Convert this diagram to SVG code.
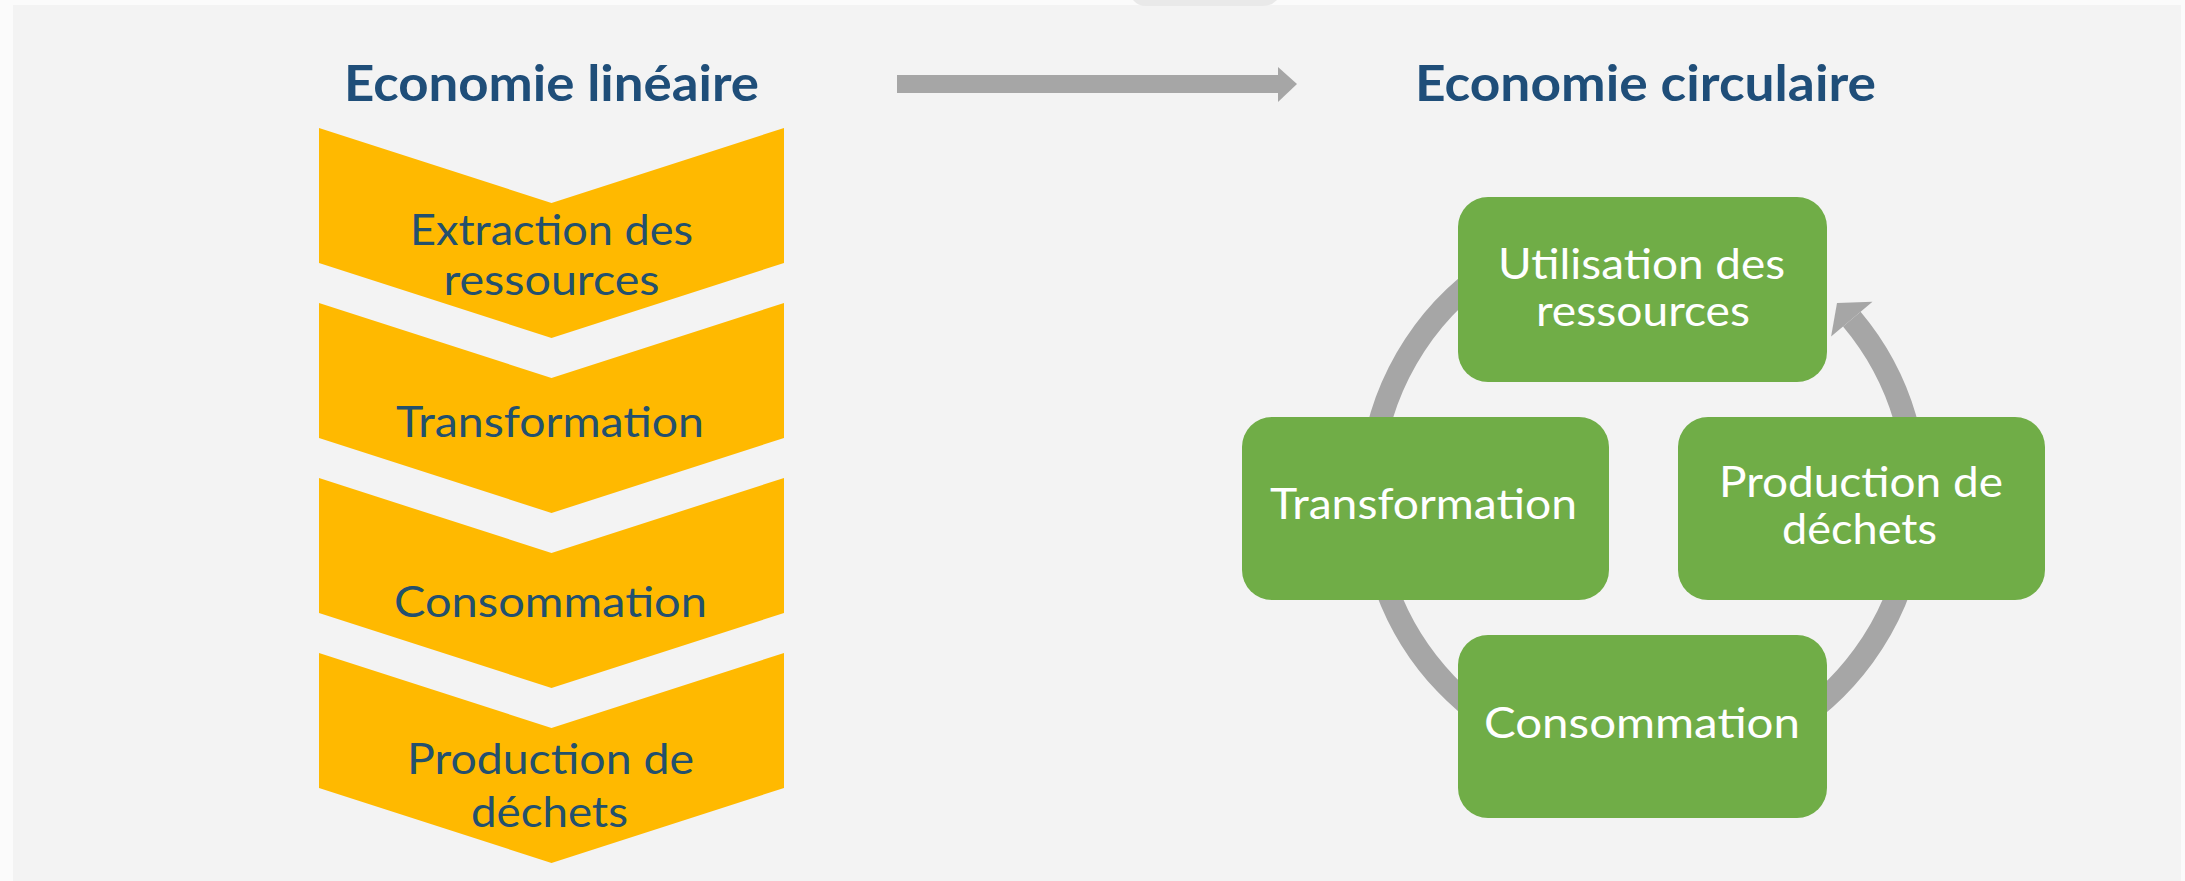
<svg xmlns="http://www.w3.org/2000/svg" width="2185" height="881" viewBox="0 0 2185 881">
  <style>
    .title { font-family: Lato, "Open Sans", "Liberation Sans", sans-serif; font-size: 50px; font-weight: bold; fill: #1f4e79; text-anchor: middle; }
    .lin { font-family: Lato, "Open Sans", "Liberation Sans", sans-serif; font-size: 43px; fill: #23506e; text-anchor: middle; }
    .circ { font-family: Lato, "Open Sans", "Liberation Sans", sans-serif; font-size: 43px; fill: #ffffff; text-anchor: middle; }
    .chev { fill: #ffb900; }
    .box { fill: #70ad47; }
    .ring { fill: none; stroke: #a6a6a6; stroke-width: 23; }
    .gray { fill: #a6a6a6; }
  </style>
  <rect x="0" y="0" width="2185" height="881" fill="#fbfbfb"/>
  <rect x="13" y="5" width="2168" height="876" fill="#f3f3f3"/>
  <path d="M1133,0 H1277 L1272,4 Q1268,6 1262,6 H1146 Q1138,6 1133,0 Z" fill="#e9e9e9"/>

  <g id="title-lineaire">
    <text class="title" x="551.5" y="101" textLength="415" lengthAdjust="spacingAndGlyphs">Economie linéaire</text>
  </g>
  <g id="title-circulaire">
    <text class="title" x="1645.5" y="101" textLength="461" lengthAdjust="spacingAndGlyphs">Economie circulaire</text>
  </g>

  <g id="connectors">
    <g id="arrow-lineaire-circulaire">
      <rect class="gray" x="897" y="75" width="382" height="18"/>
      <polygon class="gray" points="1278,67 1297,84 1278,102"/>
    </g>
    <g id="cycle">
      <path class="ring" d="M1851.8,319.1 A273,273 0 1 1 1595.6,226.1"/>
      <polygon class="gray" points="1837,303 1872.5,301.7 1831.1,336.5"/>
    </g>
  </g>

  <g id="lin-extraction">
    <polygon class="chev" points="319,128 551.5,203 784,128 784,263 551.5,338 319,263"/>
    <text class="lin" x="551.5" y="245" textLength="283" lengthAdjust="spacingAndGlyphs">Extraction des</text>
    <text class="lin" x="551.5" y="295" textLength="216" lengthAdjust="spacingAndGlyphs">ressources</text>
  </g>
  <g id="lin-transformation">
    <polygon class="chev" points="319,303 551.5,378 784,303 784,438 551.5,513 319,438"/>
    <text class="lin" x="550" y="437" textLength="308" lengthAdjust="spacingAndGlyphs">Transformation</text>
  </g>
  <g id="lin-consommation">
    <polygon class="chev" points="319,478 551.5,553 784,478 784,613 551.5,688 319,613"/>
    <text class="lin" x="550.5" y="617" textLength="313" lengthAdjust="spacingAndGlyphs">Consommation</text>
  </g>
  <g id="lin-dechets">
    <polygon class="chev" points="319,653 551.5,728 784,653 784,788 551.5,863 319,788"/>
    <text class="lin" x="550.5" y="774" textLength="287" lengthAdjust="spacingAndGlyphs">Production de</text>
    <text class="lin" x="549.5" y="827" textLength="157" lengthAdjust="spacingAndGlyphs">déchets</text>
  </g>

  <g id="circ-utilisation">
    <rect class="box" x="1458" y="197" width="369" height="185" rx="30" ry="30"/>
    <text class="circ" x="1641.5" y="279" textLength="287" lengthAdjust="spacingAndGlyphs">Utilisation des</text>
    <text class="circ" x="1643" y="326" textLength="214" lengthAdjust="spacingAndGlyphs">ressources</text>
  </g>
  <g id="circ-transformation">
    <rect class="box" x="1242" y="417" width="367" height="183" rx="30" ry="30"/>
    <text class="circ" x="1423.5" y="519" textLength="307" lengthAdjust="spacingAndGlyphs">Transformation</text>
  </g>
  <g id="circ-dechets">
    <rect class="box" x="1678" y="417" width="367" height="183" rx="30" ry="30"/>
    <text class="circ" x="1861" y="497" textLength="284" lengthAdjust="spacingAndGlyphs">Production de</text>
    <text class="circ" x="1859.5" y="544" textLength="155" lengthAdjust="spacingAndGlyphs">déchets</text>
  </g>
  <g id="circ-consommation">
    <rect class="box" x="1458" y="635" width="369" height="183" rx="30" ry="30"/>
    <text class="circ" x="1642" y="738" textLength="316" lengthAdjust="spacingAndGlyphs">Consommation</text>
  </g>
</svg>
